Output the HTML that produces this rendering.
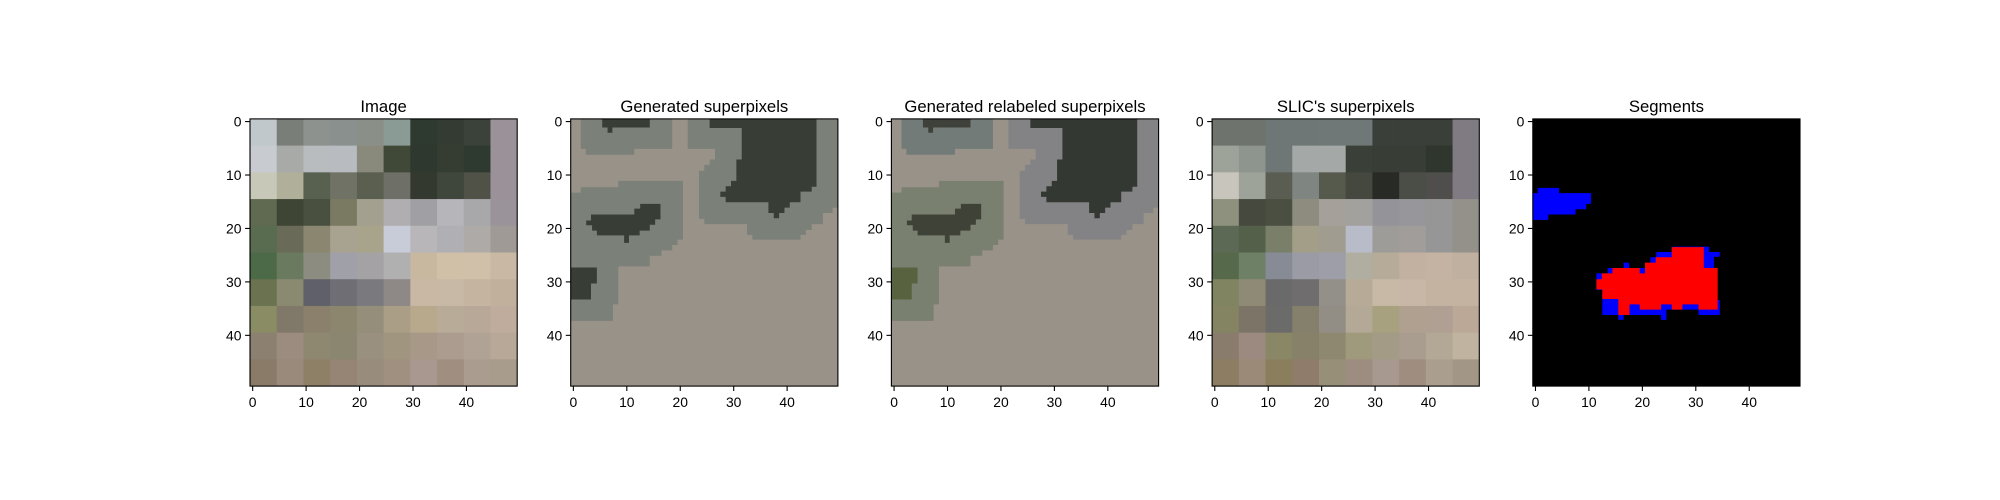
<!DOCTYPE html>
<html><head><meta charset="utf-8"><style>
body{margin:0;background:#fff}
svg{display:block}
text{font-family:"Liberation Sans","DejaVu Sans",sans-serif;fill:#000}
</style></head><body>
<svg id="fig" width="2000" height="500" viewBox="0 0 2000 500" xmlns="http://www.w3.org/2000/svg"></svg>
<script>
const titles=["Image","Generated superpixels","Generated relabeled superpixels","SLIC's superpixels","Segments"];
const ticks=[0,10,20,30,40];
const imgGrid=[
["#c0c8cc","#7a7e78","#8d928e","#8a908e","#8a9088","#8a9a94","#2e3a30","#343b33","#3a4239","#9a9298"],
["#c8ccd0","#a8aaa8","#b8bcbf","#b8bcc0","#8a8a7c","#404838","#2f382e","#353d33","#2e3a30","#9a9298"],
["#c8c8b8","#b0b09a","#586050","#707265","#5b5f50","#6e6f66","#34392f","#3f463c","#505248","#9a9298"],
["#606a50","#3e4534","#4a5040","#7a7a62","#a4a090","#b0aeb0","#a0a0a4","#b5b5ba","#a8a8aa","#9a949a"],
["#5a6c4f","#6a6a58","#8a8670","#a8a290","#a8a48c","#c8ccd8","#b8b6b8","#b0b0b4","#aeaaa8","#a09a96"],
["#4c6a48","#6a7a5e","#8c8c80","#a0a0a8","#a4a2a4","#b0b0b0","#c8b8a0","#d0c0a8","#d0c0aa","#c8b8a4"],
["#6a7250","#8a8a70","#60606a","#6e6e74","#7a7a7e","#8e8886","#c8b8a4","#c8b8a6","#c4b4a0","#c0b09c"],
["#8a8c64","#807868","#8a806c","#8c866e","#948e7a","#aa9e86","#b8a88c","#b8ac98","#b8a898","#c0ac9c"],
["#8c8070","#9c8c80","#8e8870","#8a8670","#9a9080","#a0957e","#a89888","#ac9c90","#b0a294","#b8a898"],
["#8a7a68","#9a8a7c","#8e8066","#968474","#988c7c","#a09080","#a89890","#a08e80","#aa9c8e","#a89c8c"]];
const slicGrid=[
["#6f736d","#6f736d","#6e7775","#6e7775","#6f7877","#6f7877","#3a3f3a","#3a3f39","#3a3f39","#807b82"],
["#9ea39a","#8e948e","#6e7775","#a4a9a8","#a4a9a8","#3a4037","#383d36","#383d36","#2f362e","#807b82"],
["#c8c6bc","#9ea39a","#5a5d52","#7f8581","#555a4d","#44483e","#282a25","#4a4e47","#504e4c","#807b82"],
["#8f917f","#46493e","#4a4f42","#8e8c7e","#a5a099","#a3a19e","#95939a","#97969a","#969696","#94908a"],
["#5c6a55","#54604a","#7a7f6a","#a39e88","#a09d90","#b8bcc8","#9e9c99","#a09d9a","#969696","#94908a"],
["#56694a","#6e8066","#868b95","#9a9ba5","#9e9ea8","#b0aea0","#b6aa98","#c2b0a0","#c4b2a2","#c0b0a0"],
["#808460","#8f8a75","#6a6a6a","#6f6d6d","#938f89","#b7ab98","#c7b9a5","#c8b7a6","#c5b3a2","#c5b3a2"],
["#848463","#7d7468","#6b6b6a","#85806b","#938e85","#b4a897","#a8a17f","#b0a090","#b0a094","#bba897"],
["#8a7c6c","#9c8a80","#8a8766","#868168","#8f8870","#a09a7c","#a39b85","#a99d90","#b3a796","#c0b3a0"],
["#8c7d63","#9a8a77","#8a7e5d","#8f7c6a","#978f78","#9d8d80","#a89990","#9f8d80","#aa9e8f","#a29787"]];
const regA=[[1.9,0],[19,0],[19,5.6],[11.9,5.6],[11.9,6.7],[2.8,6.7],[2.8,5.6],[1.9,5.6]];
const regAdark=[[5.9,0],[14.8,0],[14.8,1.6],[7.8,1.6],[7.8,2.6],[6.9,2.6],[6.9,1.6],[5.9,1.6]];
const regB=[[0,13.8],[1.9,13.8],[1.9,12.8],[8.9,12.8],[8.9,11.6],[21,11.6],[21,22.6],[20,22.6],[20,23.6],[19,23.6],[19,24.6],[17,24.6],[17,25.6],[14.8,25.6],[14.8,27.6],[8.9,27.6],[8.9,34.7],[7.9,34.7],[7.9,37.8],[0,37.8]];
const regBdark=[[3.8,17.9],[11.9,17.9],[11.9,16.8],[13,16.8],[13,15.9],[16.8,15.9],[16.8,18.8],[15.8,18.8],[15.8,19.8],[14.8,19.8],[14.8,20.9],[12.9,20.9],[12.9,21.8],[10.9,21.8],[10.9,23.2],[10,23.2],[10,21.8],[4.9,21.8],[4.9,20.9],[4,20.9],[4,19.9],[2.9,19.9],[2.9,19],[3.8,19]];
const regBL=[[0,27.8],[4.9,27.8],[4.9,30.8],[3.8,30.8],[3.8,33.8],[0,33.8]];
const regC=[[21.9,0],[50,0],[50,16.6],[49,16.6],[49,17.6],[47.2,17.6],[47.2,19.7],[45.1,19.7],[45.1,20.8],[44,20.8],[44,21.7],[43,21.7],[43,22.6],[34,22.6],[34,21.7],[33,21.7],[33,19.7],[25,19.7],[25,18.7],[24,18.7],[24,9.7],[25,9.7],[25,8.6],[26,8.6],[26,7.6],[27,7.6],[27,5.6],[21.9,5.6]];
const regCdark=[[26,0],[46,0],[46,12.7],[45.1,12.7],[45.1,13.6],[43,13.6],[43,15.6],[41,15.6],[41,16.6],[40,16.6],[40,17.6],[39,17.6],[39,18.6],[38,18.6],[38,17.6],[37,17.6],[37,15.6],[29,15.6],[29,14.6],[28,14.6],[28,13.6],[29,13.6],[29,12.6],[30,12.6],[30,11.6],[31,11.6],[31,7.6],[32,7.6],[32,1.7],[26,1.7]];
const segBlue1=[[0,13.9],[0.9,13.9],[0.9,12.9],[4.9,12.9],[4.9,13.9],[10.9,13.9],[10.9,15.9],[10,15.9],[10,16.9],[8,16.9],[8,17.9],[2.9,17.9],[2.9,18.9],[0,18.9]];
const segBlue2=[[11.9,28.9],[14,28.9],[14,27.9],[17,27.9],[17,26.9],[18,26.9],[18,27.9],[22,27.9],[22,25.9],[23.1,25.9],[23.1,24.9],[26,24.9],[26,23.9],[33,23.9],[33,24.9],[35,24.9],[35,25.8],[33.9,25.8],[33.9,33.9],[35,33.9],[35,36.7],[31,36.7],[31,35.7],[25,35.7],[25,37.6],[24,37.6],[24,36.7],[19,36.7],[19,36.7],[17,36.7],[17,37.6],[16,37.6],[16,36.7],[13,36.7],[13,32],[11.9,32]];
const segRed=[[11.9,30],[12.9,30],[12.9,28.9],[14.9,28.9],[14.9,27.9],[20,27.9],[20,28.9],[21,28.9],[21,26.9],[23,26.9],[23,25.9],[26,25.9],[26,24],[32,24],[32,27.9],[34.6,27.9],[34.6,35.7],[31,35.7],[31,34.7],[28,34.7],[28,35.7],[26,35.7],[26,34.7],[24,34.7],[24,35.7],[20,35.7],[20,34.7],[18.1,34.7],[18.1,36.7],[16,36.7],[16,33.7],[13,33.7],[13,31.9],[11.9,31.9]];

const NS="http://www.w3.org/2000/svg";
const svg=document.getElementById('fig');
const AX_W=267.2, AX_TOP=118.9, STEP=320.7, AX_L0=250;
const U=AX_W/50;
function el(tag,attrs,parent){const e=document.createElementNS(NS,tag);for(const k in attrs)e.setAttribute(k,attrs[k]);(parent||svg).appendChild(e);return e;}
function poly(g,L,pts,fill,name){
  const p=el('polygon',{points:pts.map(q=>(L+q[0]*U).toFixed(2)+','+(AX_TOP+q[1]*U).toFixed(2)).join(' '),fill:fill},g);
  
  
}
function grid(g,L,G,name){
  G.forEach((row,j)=>row.forEach((c,i)=>{
    const r=el('rect',{x:L+i*5*U,y:AX_TOP+j*5*U,width:5*U+0.6,height:5*U+0.6,fill:c},g);
    
    
  }));
}
for(let k=0;k<5;k++){
  const L=AX_L0+k*STEP;
  const g=el('g',{});
  
  
  const cl=el('clipPath',{id:'c'+k},g);el('rect',{x:L,y:AX_TOP,width:AX_W,height:AX_W},cl);
  const ig=el('g',{'clip-path':'url(#c'+k+')'},g);
  if(k===0) grid(ig,L,imgGrid,'image-pixel-block');
  if(k===1||k===2){
    el('rect',{x:L,y:AX_TOP,width:AX_W,height:AX_W,fill:'#999288'},ig);
    const c=k===1?['#7b8078','#383e35','#7b8078','#383e35','#383e35','#7b8078','#383e35']:['#727b78','#3e403a','#7a8070','#3f4236','#59623f','#838385','#333832'];
    poly(ig,L,regA,c[0],'superpixel-a');poly(ig,L,regAdark,c[1],'superpixel-a-core');
    poly(ig,L,regB,c[2],'superpixel-b');poly(ig,L,regBdark,c[3],'superpixel-b-core');
    poly(ig,L,regBL,c[4],'superpixel-bl');
    poly(ig,L,regC,c[5],'superpixel-c');poly(ig,L,regCdark,c[6],'superpixel-c-core');
  }
  if(k===3) grid(ig,L,slicGrid,'slic-superpixel-block');
  if(k===4){
    el('rect',{x:L,y:AX_TOP,width:AX_W,height:AX_W,fill:'#000'},ig);
    poly(ig,L,segBlue1,'#0000ff','segment-blue-left');
    poly(ig,L,segBlue2,'#0000ff','segment-blue-border');
    poly(ig,L,segRed,'#ff0000','segment-red');
  }
  const fr=el('rect',{x:L,y:AX_TOP,width:AX_W,height:AX_W,fill:'none',stroke:'#000','stroke-width':1.1},g);
  
  
  const t=el('text',{x:L+AX_W/2,y:AX_TOP-7,'text-anchor':'middle','font-size':16.7},g);t.textContent=titles[k];
  
  
  ticks.forEach(v=>{
    const px=L+(v+0.5)*U, py=AX_TOP+(v+0.5)*U;
    el('line',{x1:px,y1:AX_TOP+AX_W,x2:px,y2:AX_TOP+AX_W+4.9,stroke:'#000','stroke-width':1.1},g);
    const tx=el('text',{x:px,y:AX_TOP+AX_W+21,'text-anchor':'middle','font-size':13.9},g);tx.textContent=v;
    
    
    el('line',{x1:L,y1:py,x2:L-4.9,y2:py,stroke:'#000','stroke-width':1.1},g);
    const ty=el('text',{x:L-8.5,y:py+5,'text-anchor':'end','font-size':13.9},g);ty.textContent=v;
    
    
  });
}
</script>
</body></html>
